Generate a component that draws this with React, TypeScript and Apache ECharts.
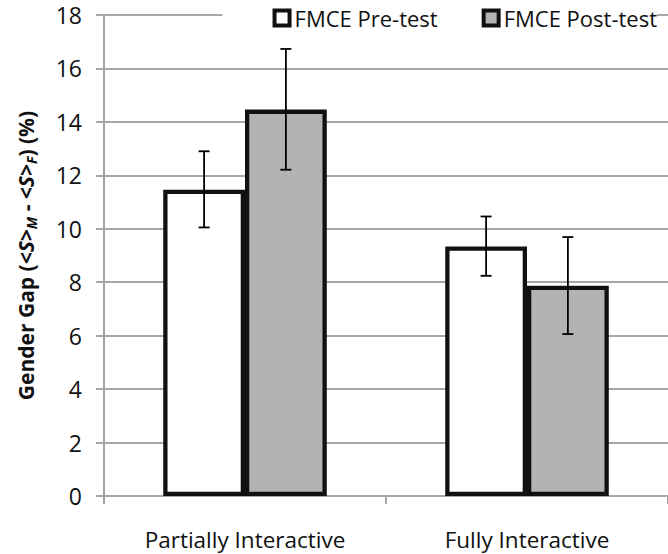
import React, { useEffect, useRef } from "react";
import * as echarts from "echarts";

const categories = ["Partially Interactive", "Fully Interactive"];
const preValues = [11.46, 9.34];
const postValues = [14.46, 7.87];
const preLow = [10.05, 8.24];
const preHigh = [12.9, 10.46];
const postLow = [12.21, 6.06];
const postHigh = [16.73, 9.69];
const seriesNames = ["FMCE Pre-test", "FMCE Post-test"];

const FONT = "Open Sans";
const CAT_GAP = 0.42;

function errorSeries(name: string, low: number[], high: number[], side: number) {
  return {
    type: "custom",
    name: name + " error",
    z: 10,
    silent: true,
    data: low.map((l, i) => [i, l, high[i]]),
    encode: { x: 0, y: [1, 2] },
    renderItem: (params: any, api: any) => {
      const i = api.value(0);
      const lo = api.coord([i, api.value(1)]);
      const hi = api.coord([i, api.value(2)]);
      const catW = api.size([1, 0])[0];
      const barW = (catW * (1 - CAT_GAP)) / 2;
      const x = lo[0] + (side * barW) / 2;
      const cap = 5.5;
      const style = { stroke: "#000", lineWidth: 1.8 };
      return {
        type: "group",
        children: [
          { type: "line", shape: { x1: x, y1: lo[1], x2: x, y2: hi[1] }, style },
          { type: "line", shape: { x1: x - cap, y1: lo[1], x2: x + cap, y2: lo[1] }, style },
          { type: "line", shape: { x1: x - cap, y1: hi[1], x2: x + cap, y2: hi[1] }, style },
        ],
      };
    },
  };
}

export default function App() {
  const ref = useRef<HTMLDivElement>(null);
  useEffect(() => {
    const chart = echarts.init(ref.current!, null, { renderer: "svg" });
    chart.setOption({
      animation: false,
      textStyle: { fontFamily: FONT },
      legend: {
        data: seriesNames,
        top: 0,
        right: 11,
        backgroundColor: "#fff",
        padding: [7, 0, 6, 50],
        itemGap: 44,
        itemWidth: 15,
        itemHeight: 15,
        icon: "rect",
        itemStyle: { borderWidth: 4, borderColor: "#111" },
        textStyle: { fontFamily: FONT, fontSize: 22, color: "#111" },
      },
      grid: { left: 104, right: -6, top: 15, bottom: 58, containLabel: false },
      xAxis: {
        type: "category",
        data: categories,
        axisLine: { lineStyle: { color: "#a6a6a6", width: 2 } },
        axisTick: { show: true, length: 8, lineStyle: { color: "#a6a6a6", width: 2 } },
        axisLabel: { fontFamily: FONT, fontSize: 22.5, color: "#111", margin: 32 },
      },
      yAxis: {
        type: "value",
        min: 0,
        max: 18,
        interval: 2,
        name: "Gender Gap ({i|<S>}{sub|M}{n| - }{i|<S>}{sub|F}{n|) (%)}",
        nameLocation: "middle",
        nameGap: 66,
        nameRotate: 90,
        nameTextStyle: {
          fontFamily: FONT,
          fontSize: 21,
          fontWeight: "bold",
          color: "#111",
          rich: {
            i: { fontFamily: FONT, fontSize: 21, fontWeight: "bold", fontStyle: "italic", color: "#111" },
            sub: { fontFamily: FONT, fontSize: 14, fontWeight: "bold", fontStyle: "italic", color: "#111", padding: [11, 0, 0, 0] },
            n: { fontFamily: FONT, fontSize: 21, fontWeight: "bold", color: "#111" },
          },
        },
        axisLine: { show: true, lineStyle: { color: "#a6a6a6", width: 2 } },
        axisTick: { show: true, length: 8, lineStyle: { color: "#a6a6a6", width: 2 } },
        axisLabel: { fontFamily: FONT, fontSize: 23, color: "#111", margin: 22 },
        splitLine: { show: true, lineStyle: { color: "#a6a6a6", width: 2 } },
      },
      series: [
        {
          name: seriesNames[0],
          type: "bar",
          data: preValues,
          barGap: "0%",
          barCategoryGap: "42%",
          itemStyle: { color: "#ffffff", borderColor: "#111", borderWidth: 4.3 },
        },
        {
          name: seriesNames[1],
          type: "bar",
          data: postValues,
          barGap: "0%",
          barCategoryGap: "42%",
          itemStyle: { color: "#b3b3b3", borderColor: "#111", borderWidth: 4.3 },
        },
        errorSeries(seriesNames[0], preLow, preHigh, -1),
        errorSeries(seriesNames[1], postLow, postHigh, 1),
      ],
    });
    return () => chart.dispose();
  }, []);
  return <div ref={ref} style={{ width: 668, height: 554, position: "absolute", left: 0, top: 0 }} />;
}
